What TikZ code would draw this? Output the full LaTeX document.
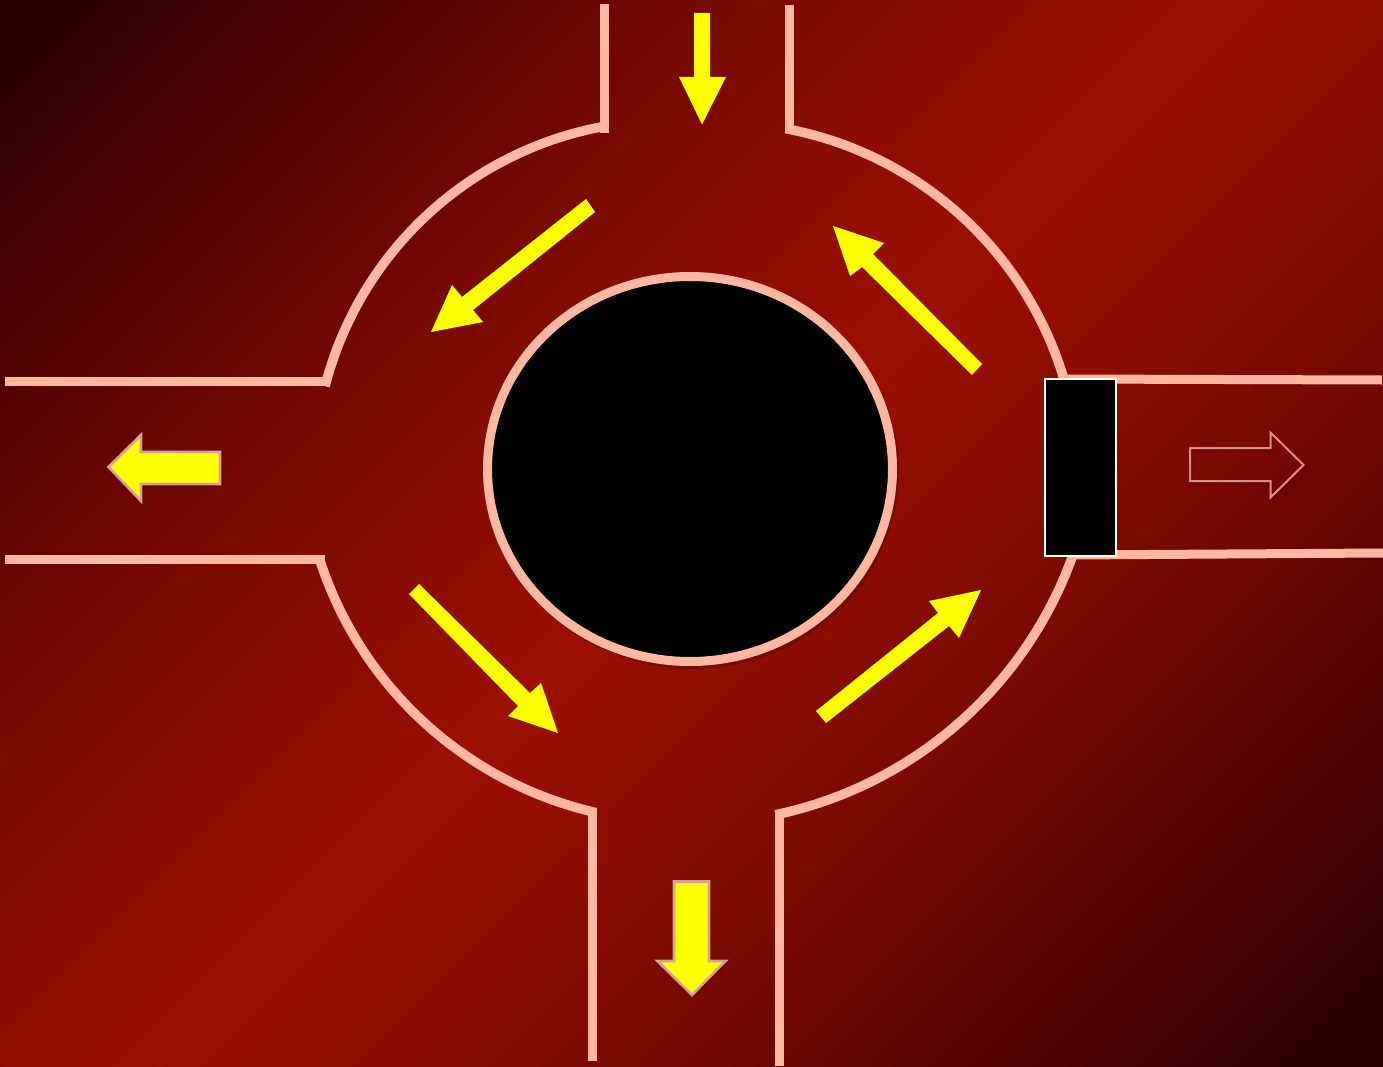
\documentclass[tikz,border=0pt]{standalone}
\usepackage{tikz}
\definecolor{bgdark}{HTML}{2E0000}
\definecolor{bgmida}{HTML}{560400}
\definecolor{bgmidb}{HTML}{7A0A00}
\definecolor{bgbright}{HTML}{9C1000}
\definecolor{roadline}{HTML}{FFB8A0}
\definecolor{arrowyellow}{HTML}{FFFF00}
\definecolor{arrowedge}{HTML}{D8A098}
\definecolor{ghostedge}{HTML}{DD8E84}
\pgfdeclareverticalshading{roadbg}{100bp}{color(0bp)=(bgdark);color(25bp)=(bgdark);color(32.5bp)=(bgmida);color(40bp)=(bgmidb);color(50bp)=(bgbright);color(60bp)=(bgmidb);color(67.5bp)=(bgmida);color(75bp)=(bgdark);color(100bp)=(bgdark)}
\tikzset{
  x=1pt,y=-1pt,
  road/.style={draw=roadline,line width=9pt,line cap=butt,line join=round},
  roadarc/.style={road,line width=9.5pt,samples=60,smooth},
  flowarrow/.style={fill=arrowyellow,draw=none},
  exitarrow/.style={fill=arrowyellow,draw=arrowedge,line width=2.6pt,line join=miter},
  ghostarrow/.style={draw=ghostedge,line width=2pt,line join=miter},
  softshadow/.style={fill=black,draw=none,fill opacity=0.16},
  ghostshadow/.style={draw=black,line width=2pt,draw opacity=0.14,line join=miter},
  island/.style={fill=black,draw=roadline,line width=9pt},
  gate/.style={fill=black,draw=white,line width=2pt},
}
\begin{document}
\begin{tikzpicture}
\useasboundingbox (0,0) rectangle (1383,1067);
% background
\begin{scope}
\clip (0,0) rectangle (1383,1067);
\path[shading=roadbg,shading angle=45] (-221,-171) rectangle (1604,1238);
\end{scope}
% straight road edges
\path[road] (604,4) -- (604,133);
\path[road] (789,5) -- (789,133);
\path[road] (1066,379) -- (1382,380);
\path[road] (1070,555) -- (1383,553);
\path[road] (5,381) -- (325,381);
\path[road] (5,559) -- (325,559);
\path[road] (592,809) -- (592,1061);
\path[road] (779,814) -- (779,1066);
% curved road edges (circular arcs)
\path[roadarc] plot[domain=-99.9:-165.6] ({667.3+353.3*cos(\x)},{474+353.3*sin(\x)});
\path[roadarc] plot[domain=-79.4:-16.8] ({719.5+359.5*cos(\x)},{482+359.5*sin(\x)});
\path[roadarc] plot[domain=162.5:102.8] ({679.9+378.5*cos(\x)},{443.5+378.5*sin(\x)});
\path[roadarc] plot[domain=20:78.1] ({692+404.5*cos(\x)},{419+404.5*sin(\x)});
% island
\fill[softshadow] (692,472) ellipse [x radius=207,y radius=197];
\path[island] (690,469) ellipse [x radius=202.5,y radius=192.5];
% gate
\path[gate] (1045,379) rectangle (1115.5,556);
% flow arrows
\fill[flowarrow] (694,13) -- (710,13) -- (710,77) -- (726,77) -- (702,124.5) -- (679,77) -- (694,77) -- cycle;
\fill[flowarrow] (586,199) -- (595,212) -- (473,310) -- (483,322) -- (431,332) -- (452,285) -- (462,297) -- cycle;
\fill[flowarrow] (972,375) -- (982,364) -- (873,254) -- (884,243) -- (833,226) -- (850,276) -- (862,267) -- cycle;
\fill[flowarrow] (409,594) -- (419,584) -- (530,693) -- (541,683) -- (558,733) -- (508,716) -- (518,706) -- cycle;
\fill[flowarrow] (816,711) -- (826,723) -- (949,626) -- (959,638) -- (981,590) -- (929,601) -- (938,613) -- cycle;
% exit arrows
\fill[softshadow,shift={(2,3)}] (108.5,467) -- (141,435) -- (141,452) -- (220,452) -- (220,484) -- (141,484) -- (141,501) -- cycle;
\path[exitarrow] (108.5,467) -- (141,435) -- (141,452) -- (220,452) -- (220,484) -- (141,484) -- (141,501) -- cycle;
\fill[softshadow,shift={(2,3)}] (674,881.5) -- (709,881.5) -- (709,961) -- (725.5,961) -- (692,995) -- (657.5,961) -- (674,961) -- cycle;
\path[exitarrow] (674,881.5) -- (709,881.5) -- (709,961) -- (725.5,961) -- (692,995) -- (657.5,961) -- (674,961) -- cycle;
\path[ghostshadow,shift={(1.5,2.5)}] (1190,448) -- (1270.5,448) -- (1270.5,432.5) -- (1303.5,465) -- (1270.5,497.5) -- (1270.5,481) -- (1190,481) -- cycle;
\path[ghostarrow] (1190,448) -- (1270.5,448) -- (1270.5,432.5) -- (1303.5,465) -- (1270.5,497.5) -- (1270.5,481) -- (1190,481) -- cycle;
\end{tikzpicture}
\end{document}
